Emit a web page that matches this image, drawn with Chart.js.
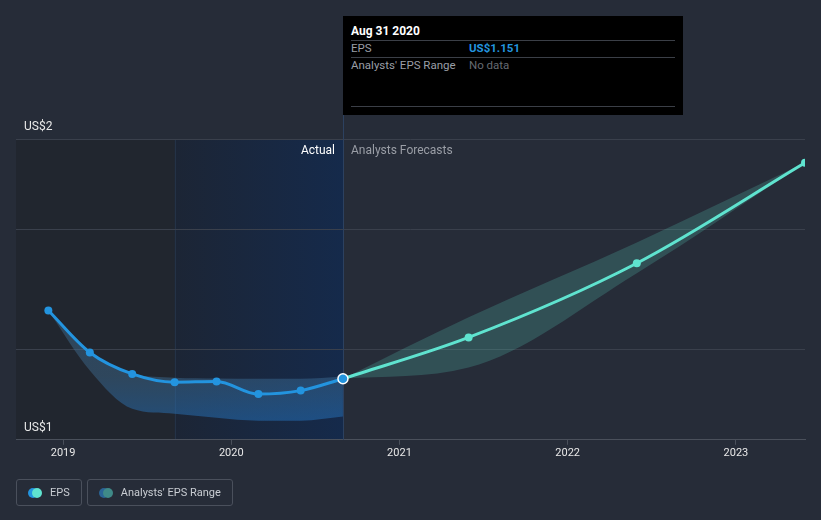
<!DOCTYPE html>
<html>
<head>
<meta charset="utf-8">
<script src="https://cdn.jsdelivr.net/npm/chart.js@4.4.1/dist/chart.umd.min.js"></script>
<style>
  html, body { margin: 0; padding: 0; background: #262c38; }
  body { width: 821px; height: 520px; position: relative; overflow: hidden; font-family: Roboto, "Noto Sans", sans-serif; }
  #wrap { position: absolute; left: 0; top: 0; width: 821px; height: 520px; }
  .tip { position: absolute; left: 343px; top: 16px; width: 340px; height: 99px; background: #000; font-size: 11.5px; }
  .tip .row { position: absolute; left: 8px; right: 8px; }
  .tip .line { position: absolute; left: 8px; right: 8px; height: 1px; background: #3b3f47; }
  .tip .val { position: absolute; left: 118px; }
  .legend { position: absolute; top: 479px; left: 16px; display: flex; gap: 5px; }
  .legend .item { height: 27px; border: 1px solid #4a505c; border-radius: 3px; display: flex; align-items: center; padding: 0 11px 0 11px; color: #c9cdd3; font-size: 11px; box-sizing: border-box; }
  .dots { position: relative; width: 14px; height: 10px; margin-right: 8px; }
  .dots span { position: absolute; top: 0; width: 10px; height: 10px; border-radius: 50%; }
</style>
</head>
<body>
<div id="wrap"><canvas id="epsChart" width="821" height="520"></canvas></div>

<div class="tip">
  <div class="row" style="top:8px;color:#fff;font-weight:bold;font-size:12px;">Aug 31 2020</div>
  <div class="line" style="top:24px;"></div>
  <div class="row" style="top:25px;color:#9a9ea6;">EPS<span class="val" style="color:#2394df;font-weight:bold;">US$1.151</span></div>
  <div class="line" style="top:41px;"></div>
  <div class="row" style="top:42px;color:#9a9ea6;">Analysts' EPS Range<span class="val" style="color:#666b72;">No data</span></div>
  <div class="line" style="top:90px;"></div>
</div>

<div class="legend">
  <div class="item"><div class="dots"><span style="left:0;background:#2394df"></span><span style="left:4px;background:#5fe3cf"></span></div>EPS</div>
  <div class="item"><div class="dots"><span style="left:0;background:#2a6496"></span><span style="left:4px;background:#3f8a88"></span></div>Analysts' EPS Range</div>
</div>

<script>
// data
const actualDates = ["2018-11-30", "2019-02-28", "2019-05-31", "2019-08-31", "2019-11-30", "2020-02-29", "2020-05-31", "2020-08-31"];
const actualEps = [1.347, 1.223, 1.164, 1.142, 1.144, 1.111, 1.120, 1.151];
const actualRangeHigh = [1.347, 1.223, 1.165, 1.154, 1.152, 1.151, 1.151, 1.157];
const actualRangeLow = [1.347, 1.173, 1.074, 1.062, 1.052, 1.045, 1.045, 1.055];

const forecastDates = ["2020-08-31", "2021-05-31", "2022-05-31", "2023-05-31"];
const forecastEps = [1.151, 1.266, 1.502, 1.893];
const forecastHigh = [1.151, 1.326, 1.576, 1.893];
const forecastLow = [1.151, 1.181, 1.468, 1.893];

const xTickYears = [2019, 2020, 2021, 2022, 2023];
const yGridValues = [1, 1.231, 1.625, 2];
const yTickLabels = {1: "US$1", 2: "US$2"};
const highlightStart = "2019-08-31";

function toYear(s) {
    const d = new Date(s + "T00:00:00Z");
    const y = d.getUTCFullYear();
    const start = Date.UTC(y, 0, 1);
    const end = Date.UTC(y + 1, 0, 1);
    return y + (d.getTime() - start) / (end - start);
}
function pts(dates, vals) {
    return dates.map((d, i) => ({x: toYear(d), y: vals[i]}));
}

const lastActual = toYear(actualDates[actualDates.length - 1]);

// band shading goes greyer at the top and bluer at the bottom
function bandFill(c) {
    const chart = c.chart;
    if (!chart.chartArea) return "rgba(38, 128, 215, 0.42)";
    const ys = chart.scales.y;
    const g = chart.ctx.createLinearGradient(0, ys.getPixelForValue(1.16), 0, ys.getPixelForValue(1.04));
    g.addColorStop(0, "rgba(65, 115, 155, 0.42)");
    g.addColorStop(1, "rgba(35, 113, 188, 0.52)");
    return g;
}

const bgPlugin = {
    id: "bgPlugin",
    beforeDraw(chart) {
        const {ctx, chartArea: a, scales} = chart;
        const xs = scales.x;
        const xh = xs.getPixelForValue(toYear(highlightStart));
        const xl = xs.getPixelForValue(lastActual);
        ctx.save();
        ctx.fillStyle = "#262c38";
        ctx.fillRect(0, 0, chart.width, chart.height);
        ctx.fillStyle = "#21262f";
        ctx.fillRect(a.left, a.top, xh - a.left, a.bottom - a.top);
        const g = ctx.createLinearGradient(xh, 0, xl, 0);
        g.addColorStop(0, "#1c2535");
        g.addColorStop(1, "#152a4b");
        ctx.fillStyle = g;
        ctx.fillRect(xh, a.top, xl - xh, a.bottom - a.top);
        ctx.fillStyle = "#243247";
        ctx.fillRect(Math.round(xh), a.top, 1, a.bottom - a.top);
        ctx.restore();
    },
    beforeDatasetsDraw(chart) {
        const {ctx, chartArea: a, scales} = chart;
        const xl = Math.round(scales.x.getPixelForValue(lastActual));
        ctx.save();
        ctx.fillStyle = "#2c4160";
        ctx.fillRect(xl, 16, 1, a.bottom - 16);
        ctx.font = "12px Roboto, 'Noto Sans', sans-serif";
        ctx.textBaseline = "middle";
        ctx.textAlign = "right";
        ctx.fillStyle = "#ffffff";
        ctx.fillText("Actual", xl - 8, a.top + 12);
        ctx.textAlign = "left";
        ctx.fillStyle = "#9a9ea6";
        ctx.fillText("Analysts Forecasts", xl + 8, a.top + 12);
        ctx.restore();
    }
};

const ctx = document.getElementById("epsChart");

new Chart(ctx, {
    type: "line",
    data: {
        datasets: [
            {
                label: "EPS",
                data: pts(actualDates, actualEps),
                borderColor: "#2394df",
                backgroundColor: "#2394df",
                borderWidth: 3,
                pointRadius: actualDates.map((d, i) => i === actualDates.length - 1 ? 5 : 4),
                pointBorderWidth: actualDates.map((d, i) => i === actualDates.length - 1 ? 1.5 : 0),
                pointBorderColor: "#ffffff",
                cubicInterpolationMode: "monotone",
                fill: false,
                order: 0
            },
            {
                label: "EPS forecast",
                data: pts(forecastDates, forecastEps),
                borderColor: "#5fe3cf",
                backgroundColor: "#5fe3cf",
                borderWidth: 3,
                pointRadius: forecastDates.map((d, i) => i === 0 ? 0 : 4),
                pointBorderWidth: 0,
                cubicInterpolationMode: "monotone",
                fill: false,
                order: 1
            },
            {
                label: "range high",
                data: pts(actualDates, actualRangeHigh),
                borderWidth: 0,
                pointRadius: 0,
                cubicInterpolationMode: "monotone",
                fill: "+1",
                backgroundColor: bandFill,
                order: 2
            },
            {
                label: "range low",
                data: pts(actualDates, actualRangeLow),
                borderWidth: 0,
                pointRadius: 0,
                cubicInterpolationMode: "monotone",
                fill: false,
                order: 3
            },
            {
                label: "forecast high",
                data: pts(forecastDates, forecastHigh),
                borderWidth: 0,
                pointRadius: 0,
                cubicInterpolationMode: "monotone",
                fill: "+1",
                backgroundColor: "rgba(95, 227, 207, 0.2)",
                order: 4
            },
            {
                label: "forecast low",
                data: pts(forecastDates, forecastLow),
                borderWidth: 0,
                pointRadius: 0,
                cubicInterpolationMode: "monotone",
                fill: false,
                order: 5
            }
        ]
    },
    options: {
        responsive: false,
        animation: false,
        events: [],
        layout: {
            padding: {left: 0, right: 16, top: 139, bottom: 58}
        },
        plugins: {
            legend: {display: false},
            tooltip: {enabled: false}
        },
        scales: {
            x: {
                type: "linear",
                min: 2018.72,
                max: toYear(forecastDates[forecastDates.length - 1]),
                afterBuildTicks: (axis) => { axis.ticks = xTickYears.map(v => ({value: v})); },
                grid: {drawOnChartArea: false, drawTicks: true, tickLength: 5, color: "#4a505b"},
                border: {display: true, color: "#4a505b"},
                ticks: {
                    color: "#e8e8e8",
                    font: {family: "Roboto", size: 11},
                    padding: 2,
                    maxRotation: 0,
                    callback: (v) => String(v)
                }
            },
            y: {
                type: "logarithmic",
                min: 1,
                max: 2,
                afterBuildTicks: (axis) => { axis.ticks = yGridValues.map(v => ({value: v})); },
                grid: {color: "#3a404c", drawTicks: false},
                border: {display: false},
                ticks: {
                    mirror: true,
                    padding: 8,
                    labelOffset: -12,
                    color: "#e8e8e8",
                    font: {family: "Roboto", size: 12},
                    callback: (v) => yTickLabels[v] || ""
                }
            }
        }
    },
    plugins: [bgPlugin]
});
</script>
</body>
</html>
